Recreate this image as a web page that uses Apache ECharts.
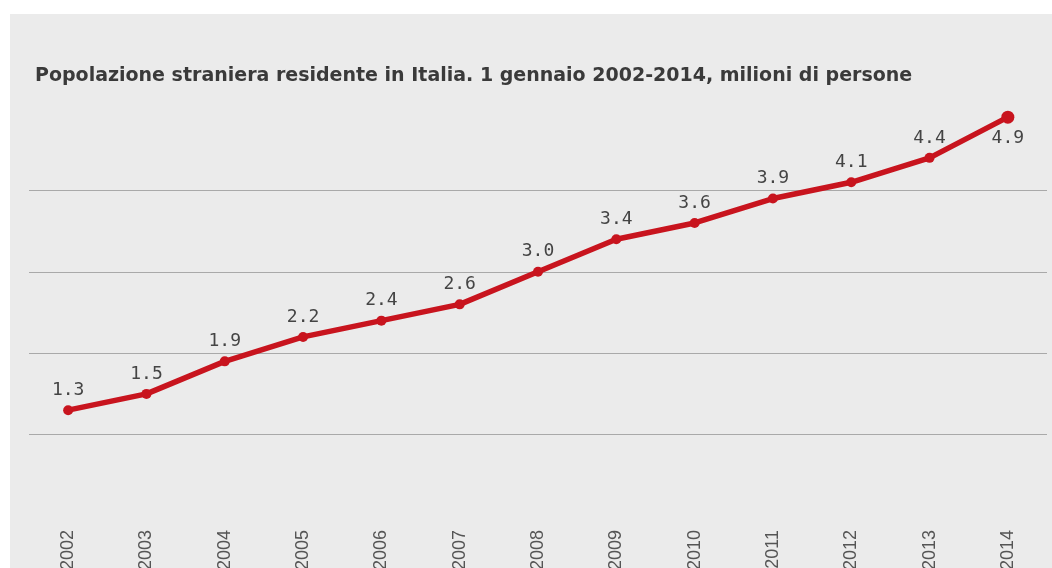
<!DOCTYPE html>
<html>
<head>
<meta charset="utf-8">
<script src="https://cdn.jsdelivr.net/npm/echarts@6/dist/echarts.min.js"></script>
<style>
  html, body { margin: 0; padding: 0; background: #fff; }
  #wrap { position: relative; width: 1052px; height: 568px; overflow: hidden; background: #fff; }
  #panel { position: absolute; left: 10px; top: 14px; right: 0; bottom: 0; background: #ebebeb; }
  #chart { position: absolute; left: 0; top: 0; width: 1052px; height: 568px; }
</style>
</head>
<body>
<div id="wrap">
  <div id="panel"></div>
  <div id="chart"></div>
</div>
<script>
// Foreign resident population in Italy, 1 January of each year, millions
const years = ['2002', '2003', '2004', '2005', '2006', '2007', '2008',
               '2009', '2010', '2011', '2012', '2013', '2014'];
const residents = [1.3, 1.5, 1.9, 2.2, 2.4, 2.6, 3.0, 3.4, 3.6, 3.9, 4.1, 4.4, 4.9];
const titleText = 'Popolazione straniera residente in Italia. 1 gennaio 2002-2014, milioni di persone';

const lineRed = '#c8141e';
const lastIndex = residents.length - 1;

// the final point sits near the top, so its value goes underneath
const seriesData = residents.map((v, i) => {
  if (i === lastIndex) {
    return { value: v, symbolSize: 13, label: { position: 'bottom', distance: 6 } };
  }
  return v;
});

const chart = echarts.init(document.getElementById('chart'));
chart.setOption({
  backgroundColor: 'transparent',
  animation: false,
  title: {
    text: titleText,
    left: 30,
    top: 62,
    textStyle: {
      fontFamily: '"DejaVu Sans", Verdana, sans-serif',
      fontWeight: 'bold',
      fontSize: 19,
      color: '#3a3a3a'
    }
  },
  grid: {
    left: 29, right: 5, top: 109, bottom: 52,
    containLabel: false,
    outerBoundsMode: 'none'
  },
  xAxis: {
    type: 'category',
    data: years,
    boundaryGap: true,
    axisLine: { show: false },
    axisTick: { show: false },
    axisLabel: {
      rotate: 90,
      margin: 14,
      fontFamily: '"Liberation Sans", Arial, sans-serif',
      fontSize: 18,
      color: '#555'
    }
  },
  yAxis: {
    type: 'value',
    min: 0,
    max: 5,
    interval: 1,
    axisLine: { show: false },
    axisTick: { show: false },
    axisLabel: { show: false },
    splitLine: {
      show: true,
      showMinLine: false,
      showMaxLine: false,
      lineStyle: { color: '#a9a9a9', width: 1 }
    }
  },
  series: [{
    type: 'line',
    data: seriesData,
    symbol: 'circle',
    symbolSize: 10,
    lineStyle: { color: lineRed, width: 5.5 },
    itemStyle: { color: lineRed },
    label: {
      show: true,
      position: 'top',
      distance: 6,
      formatter: p => p.value.toFixed(1),
      fontFamily: '"DejaVu Sans Mono", "Liberation Mono", monospace',
      fontSize: 18,
      color: '#444'
    }
  }]
});
</script>
</body>
</html>
